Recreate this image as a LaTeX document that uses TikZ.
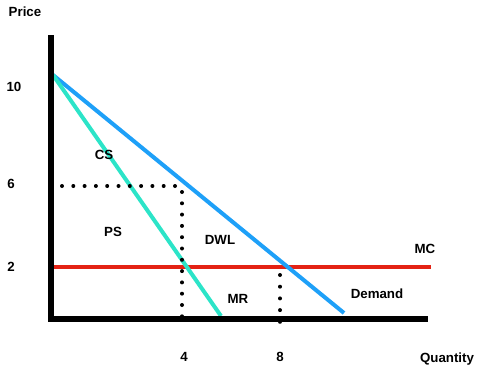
\documentclass[tikz,border=0pt]{standalone}
\usepackage{fontspec}
\setmainfont{Liberation Sans}
\definecolor{demandblue}{RGB}{30,160,248}
\definecolor{mrcyan}{RGB}{44,228,200}
\definecolor{mcred}{RGB}{228,34,20}
\begin{document}
\begin{tikzpicture}[x=1pt,y=-1pt,
  lbl/.style={font=\fontsize{13.3}{15}\selectfont\bfseries, inner sep=0pt, anchor=center},
  axisline/.style={line width=6pt, line join=miter, line cap=butt},
  curve/.style={line width=4pt, line cap=butt},
  dotline/.style={line width=4pt, line cap=round, dash pattern=on 0pt off 11.3pt}]
\useasboundingbox (0,0) rectangle (488,372);
% coordinates
\coordinate (top) at (51,35);
\coordinate (origin) at (51,319);
\coordinate (xend) at (428,319);
\coordinate (pmax) at (53,75);
\coordinate (dend) at (344,313);
\coordinate (mrend) at (221,316);
\coordinate (mcstart) at (54,267);
\coordinate (mcend) at (431,267);
\coordinate (h1) at (62,186);
\coordinate (h2) at (175,186);
\coordinate (v1) at (182,192);
\coordinate (v2) at (182,317);
\coordinate (w1) at (280,275);
\coordinate (w2) at (280,323);
% curves
\draw[curve, mcred] (mcstart) -- (mcend);
\draw[curve, demandblue] (pmax) -- (dend);
\draw[curve, mrcyan] (pmax) -- (mrend);
% axes
\draw[axisline] (top) -- (origin) -- (xend);
% dotted guides
\draw[dotline] (h1) -- (h2);
\draw[dotline] (v1) -- (v2);
\draw[dotline, dash pattern=on 0pt off 11.7pt] (w1) -- (w2);
% labels
\node[lbl] (price) at (25,12) {Price};
\node[lbl] (p10) at (14,87) {10};
\node[lbl] (p6) at (11,184) {6};
\node[lbl] (p2) at (11,267) {2};
\node[lbl] (cs) at (104,155) {CS};
\node[lbl] (ps) at (113,232) {PS};
\node[lbl] (dwl) at (220,240) {DWL};
\node[lbl] (mr) at (238,299) {MR};
\node[lbl] (mc) at (425,249) {MC};
\node[lbl] (demand) at (377,294) {Demand};
\node[lbl] (q4) at (184,357) {4};
\node[lbl] (q8) at (280,357) {8};
\node[lbl] (qty) at (447,359) {Quantity};
\end{tikzpicture}
\end{document}
